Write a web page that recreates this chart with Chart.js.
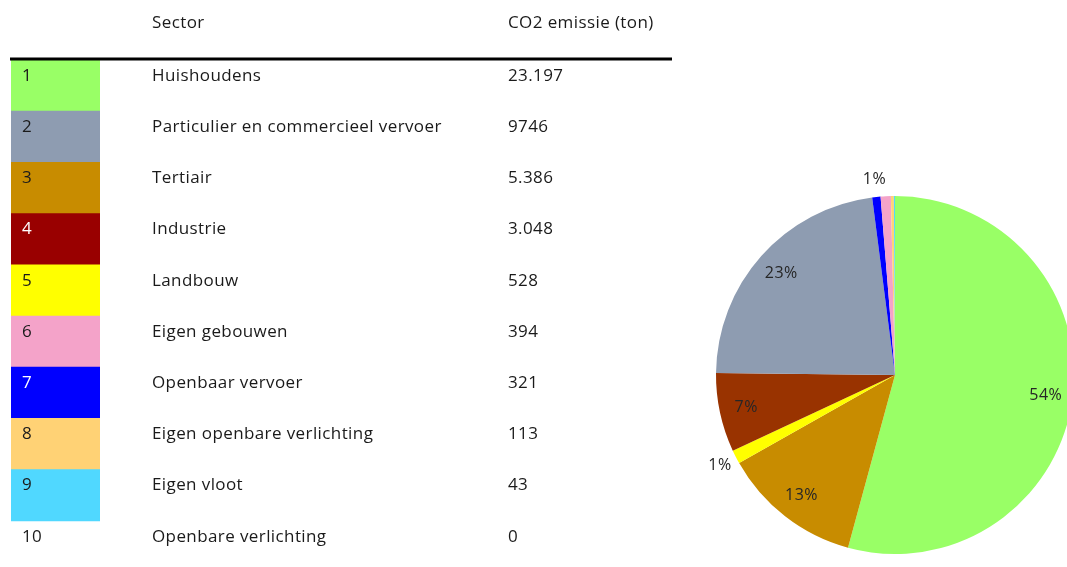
<!DOCTYPE html>
<html>
<head>
<meta charset="utf-8">
<script src="https://cdn.jsdelivr.net/npm/chart.js@4.4.0/dist/chart.umd.min.js"></script>
<style>
  html, body { margin: 0; padding: 0; background: #fff; overflow: hidden; width: 1067px; height: 567px; }
  #tableChart { position: absolute; left: 0; top: 0; }
  #pieChart { position: absolute; left: 680px; top: 160px; }
</style>
</head>
<body>
<canvas id="tableChart" width="680" height="580"></canvas>
<canvas id="pieChart" width="430" height="430"></canvas>
<script>
// table rows
let rowNumbers = ['1', '2', '3', '4', '5', '6', '7', '8', '9', '10']
let sectors = [
    'Huishoudens', 'Particulier en commercieel vervoer', 'Tertiair', 'Industrie',
    'Landbouw', 'Eigen gebouwen', 'Openbaar vervoer', 'Eigen openbare verlichting',
    'Eigen vloot', 'Openbare verlichting'
]
let emissions = [23197, 9746, 5386, 3048, 528, 394, 321, 113, 43, 0]
let emissionTexts = ['23.197', '9746', '5.386', '3.048', '528', '394', '321', '113', '43', '0']
let rowColors = [
    '#99ff66', '#8e9cb1', '#c88c00', '#990000', '#ffff00',
    '#f4a3c9', '#0000ff', '#ffd275', '#50d8ff', 'rgba(255,255,255,0)'
]
let numberColors = ['#1a1a1a', '#1a1a1a', '#1a1a1a', '#ffffff', '#1a1a1a', '#1a1a1a', '#ffffff', '#1a1a1a', '#1a1a1a', '#1a1a1a']

// pie: order of slices clockwise from the top (index into the table rows)
let pieOrder = [0, 2, 4, 3, 1, 6, 5, 7, 8]
let pieColors = ['#99ff66', '#c88c00', '#ffff00', '#993300', '#8e9cb1', '#0000ff', '#f4a3c9', '#ffd275', '#50d8ff']
let pieShowLabel = [true, true, true, true, true, true, false, false, false]

let tableFont = '17px "Open Sans"'

let tableTextPlugin = {
    id: 'tableText',
    afterDraw(chart) {
        let c = chart.ctx
        let y = chart.scales.y
        c.save()
        c.font = tableFont
        c.letterSpacing = '0.4px'
        c.textBaseline = 'middle'
        c.fillStyle = '#1a1a1a'
        c.fillText('Sector', 152, 23)
        c.fillText('CO2 emissie (ton)', 508, 23)

        c.strokeStyle = '#000'
        c.lineWidth = 3
        c.beginPath()
        c.moveTo(10, 59)
        c.lineTo(672, 59)
        c.stroke()

        let band = (y.bottom - y.top) / rowNumbers.length
        for (let i = 0; i < rowNumbers.length; i++) {
            let ty = y.getPixelForValue(i) - band / 2 + 16
            c.fillStyle = numberColors[i]
            c.fillText(rowNumbers[i], 22, ty)
            c.fillStyle = '#1a1a1a'
            c.fillText(sectors[i], 152, ty)
            c.fillText(emissionTexts[i], 508, ty)
        }
        c.restore()
    }
}

let ctx = document.getElementById('tableChart').getContext('2d')
let tableChart = new Chart(ctx, {
    type: 'bar',
    data: {
        labels: rowNumbers,
        datasets: [{
            data: rowNumbers.map(() => 1),
            backgroundColor: rowColors,
            borderWidth: 0,
            barPercentage: 1,
            categoryPercentage: 1
        }]
    },
    options: {
        indexAxis: 'y',
        responsive: false,
        animation: false,
        layout: {
            padding: { left: 11, right: 580, top: 60, bottom: 8 }
        },
        plugins: {
            legend: { display: false },
            tooltip: { enabled: false }
        },
        scales: {
            x: { display: false, min: 0, max: 1 },
            y: { display: false }
        }
    },
    plugins: [tableTextPlugin]
})

let pieLabelPlugin = {
    id: 'pieLabels',
    afterDatasetsDraw(chart) {
        let c = chart.ctx
        let meta = chart.getDatasetMeta(0)
        let values = chart.data.datasets[0].data
        let total = values.reduce((a, b) => a + b, 0)
        c.save()
        c.font = '16px "Open Sans"'
        c.letterSpacing = '0.5px'
        c.fillStyle = '#262626'
        c.textAlign = 'center'
        c.textBaseline = 'middle'
        meta.data.forEach((arc, i) => {
            if (!pieShowLabel[i]) return
            let pct = values[i] / total * 100
            let mid = (arc.startAngle + arc.endAngle) / 2
            let f = pct < 3 ? 1.1 : 0.85
            let px = arc.x + Math.cos(mid) * arc.outerRadius * f
            let py = arc.y + Math.sin(mid) * arc.outerRadius * f
            c.fillText(Math.round(pct) + '%', px, py)
        })
        c.restore()
    }
}

let ctx2 = document.getElementById('pieChart').getContext('2d')
let pieChart = new Chart(ctx2, {
    type: 'pie',
    data: {
        labels: pieOrder.map(i => sectors[i]),
        datasets: [{
            data: pieOrder.map(i => emissions[i]),
            backgroundColor: pieColors,
            borderWidth: 0
        }]
    },
    options: {
        responsive: false,
        animation: false,
        layout: { padding: 36 },
        plugins: {
            legend: { display: false },
            tooltip: { enabled: false }
        }
    },
    plugins: [pieLabelPlugin]
})
</script>
</body>
</html>
